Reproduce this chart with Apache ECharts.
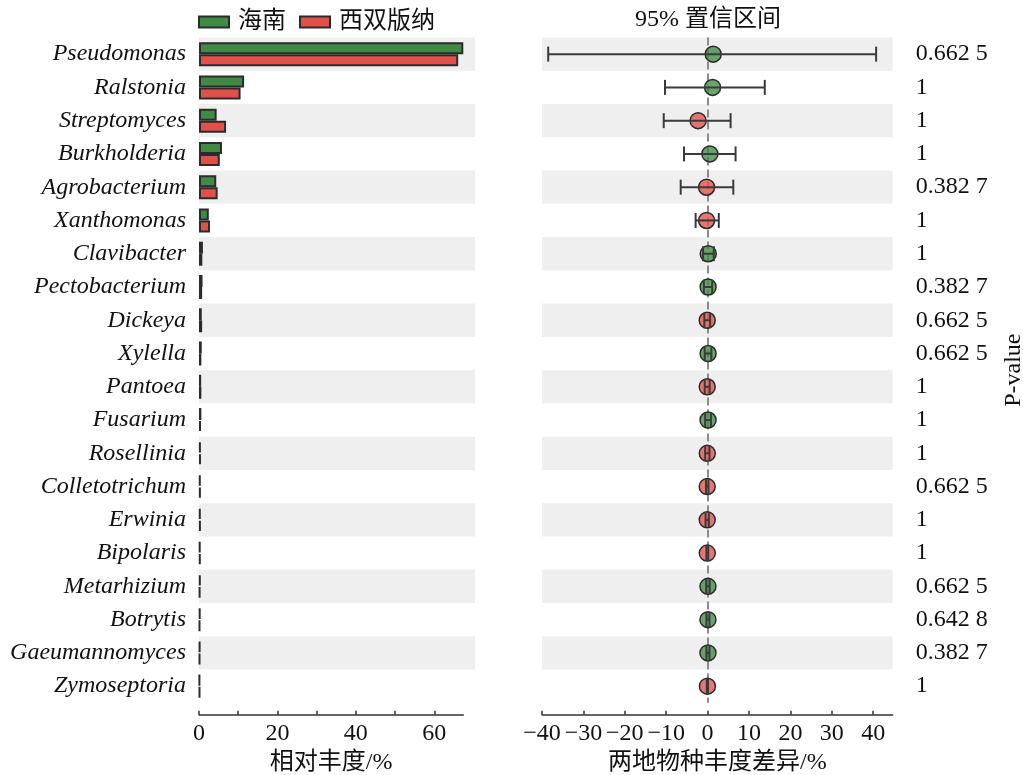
<!DOCTYPE html>
<html>
<head>
<meta charset="utf-8">
<script src="https://cdn.jsdelivr.net/npm/echarts@6/dist/echarts.min.js"></script>
<style>
  html, body { margin: 0; padding: 0; background: #fff; }
  #chart { width: 1023px; height: 775px; }
</style>
</head>
<body>
<div id="chart"></div>
<script>
// Genera, top to bottom
const categories = [
  'Pseudomonas', 'Ralstonia', 'Streptomyces', 'Burkholderia', 'Agrobacterium',
  'Xanthomonas', 'Clavibacter', 'Pectobacterium', 'Dickeya', 'Xylella',
  'Pantoea', 'Fusarium', 'Rosellinia', 'Colletotrichum', 'Erwinia',
  'Bipolaris', 'Metarhizium', 'Botrytis', 'Gaeumannomyces', 'Zymoseptoria'
];

// Mean relative abundance (%) in each region
const hainan = [67.4, 11.5, 4.5, 5.85, 4.4, 2.5, 1.0, 0.9, 0.7, 0.7,
                0.55, 0.6, 0.45, 0.4, 0.4, 0.35, 0.4, 0.35, 0.3, 0.2];
const xishuangbanna = [66.1, 10.6, 6.9, 5.3, 4.75, 2.8, 0.85, 0.8, 0.8, 0.6,
                       0.6, 0.5, 0.5, 0.45, 0.45, 0.4, 0.3, 0.25, 0.25, 0.25];

// Difference in abundance (Hainan - Xishuangbanna) with its 95% confidence interval
const meanDiff = [1.35, 1.2, -2.3, 0.55, -0.25, -0.25, 0.15, 0.12, -0.1, 0.12,
                  -0.1, 0.1, -0.08, -0.1, -0.1, -0.08, 0.08, 0.08, 0.08, -0.05];
const ciLow = [-38.5, -10.3, -10.6, -5.7, -6.5, -2.9, -1.1, -0.9, -0.8, -0.7,
               -0.7, -0.6, -0.6, -0.4, -0.5, -0.3, -0.35, -0.3, -0.3, -0.2];
const ciHigh = [40.7, 13.8, 5.55, 6.75, 6.2, 2.7, 1.5, 1.1, 0.6, 0.9,
                0.5, 0.8, 0.45, 0.2, 0.3, 0.15, 0.5, 0.45, 0.45, 0.1];

// P-value shown beside each row
const pValues = ['0.662 5', '1', '1', '1', '0.382 7', '1', '1', '0.382 7', '0.662 5', '0.662 5',
                 '1', '1', '1', '0.662 5', '1', '1', '0.662 5', '0.642 8', '0.382 7', '1'];

const seriesNames = ['海南', '西双版纳'];

// Axis ranges
const abundanceMax = Math.max(...hainan, ...xishuangbanna);
const abundanceBandEnd = 70.4;
const diffMin = -40;
const diffMax = 44.7;

const GREEN = '#3f8b43';
const RED = '#e2504a';
const GREEN_DOT = 'rgba(63,139,67,0.78)';
const RED_DOT = 'rgba(226,80,74,0.78)';
const EDGE = '#2b2b2b';
const BAND = '#efefef';
const FONT = "'Liberation Serif', 'Times New Roman', 'Noto Sans CJK SC', serif";
const FS = 24;
const TEXT = '#111';

const chart = echarts.init(document.getElementById('chart'), null, { renderer: 'canvas' });

const rowIndex = categories.map((c, i) => [0, i]);

// Alternating grey row stripes between two x values
function stripes(xFrom, xTo) {
  return function (params, api) {
    const idx = api.value(1);
    if (idx % 2 === 1) return null;
    const a = api.coord([xFrom, idx]);
    const b = api.coord([xTo, idx]);
    const h = api.size([0, 1])[1];
    return {
      type: 'rect',
      shape: { x: a[0], y: a[1] - h / 2, width: b[0] - a[0], height: h },
      style: { fill: BAND },
      silent: true
    };
  };
}

// Horizontal whisker with end caps
function whisker(params, api) {
  const row = api.value(2);
  const lo = api.coord([api.value(0), row]);
  const hi = api.coord([api.value(1), row]);
  const cap = 7.5;
  const style = { stroke: '#3a3a3a', lineWidth: 2 };
  return {
    type: 'group',
    children: [
      { type: 'line', shape: { x1: lo[0], y1: lo[1], x2: hi[0], y2: hi[1] }, style },
      { type: 'line', shape: { x1: lo[0], y1: lo[1] - cap, x2: lo[0], y2: lo[1] + cap }, style },
      { type: 'line', shape: { x1: hi[0], y1: hi[1] - cap, x2: hi[0], y2: hi[1] + cap }, style }
    ]
  };
}

const minus = v => String(v).replace('-', '\u2212');

const axisCommon = {
  axisLine: { show: true, lineStyle: { color: '#333', width: 1.5 } },
  axisTick: { show: true, inside: true, length: 4, lineStyle: { color: '#333', width: 1.5 } },
  splitLine: { show: false },
  nameLocation: 'middle',
  nameTextStyle: { fontFamily: FONT, fontSize: FS, color: TEXT },
  offset: 12
};

const option = {
  backgroundColor: '#fff',
  animation: false,
  textStyle: { fontFamily: FONT },
  title: {
    text: '95% 置信区间',
    left: 635,
    top: 8,
    padding: 0,
    textStyle: { fontFamily: FONT, fontSize: FS, fontWeight: 'normal', color: TEXT }
  },
  legend: {
    data: seriesNames,
    left: 198,
    top: 10,
    padding: 0,
    icon: 'rect',
    itemWidth: 30,
    itemHeight: 11,
    itemGap: 13,
    textStyle: { fontFamily: FONT, fontSize: FS, color: TEXT, padding: [0, 0, 0, 4] }
  },
  grid: [
    { left: 199, right: 1023 - 463.3, top: 37.5, bottom: 72.2, outerBoundsMode: 'none' },
    { left: 542, right: 1023 - 892.7, top: 37.5, bottom: 72.2, outerBoundsMode: 'none' }
  ],
  xAxis: [
    Object.assign({}, axisCommon, {
      gridIndex: 0,
      type: 'value',
      min: 0,
      max: abundanceMax,
      interval: 10,
      name: '相对丰度/%',
      nameGap: 34,
      axisLabel: {
        margin: 7,
        fontFamily: FONT, fontSize: FS, color: TEXT,
        showMaxLabel: false,
        formatter: v => (v % 20 === 0 ? String(v) : '')
      }
    }),
    Object.assign({}, axisCommon, {
      gridIndex: 1,
      type: 'value',
      min: diffMin,
      max: diffMax,
      interval: 10,
      name: '两地物种丰度差异/%',
      nameGap: 34,
      axisLabel: {
        margin: 7,
        fontFamily: FONT, fontSize: FS, color: TEXT,
        showMaxLabel: false,
        formatter: v => (v % 10 === 0 ? minus(v) : '')
      }
    })
  ],
  yAxis: [
    {
      gridIndex: 0,
      type: 'category',
      data: categories,
      inverse: true,
      axisLine: { show: false },
      axisTick: { show: false },
      splitLine: { show: false },
      axisLabel: {
        margin: 13,
        fontFamily: FONT, fontSize: FS, fontStyle: 'italic', color: TEXT
      }
    },
    {
      gridIndex: 1,
      type: 'category',
      data: categories,
      inverse: true,
      position: 'right',
      axisLine: { show: false },
      axisTick: { show: false },
      splitLine: { show: false },
      axisLabel: {
        margin: 23,
        align: 'left',
        fontFamily: FONT, fontSize: FS, color: TEXT,
        formatter: (v, i) => pValues[i]
      },
      name: 'P-value',
      nameLocation: 'middle',
      nameRotate: 90,
      nameGap: 109,
      nameTextStyle: { fontFamily: FONT, fontSize: FS, color: TEXT }
    }
  ],
  series: [
    {
      type: 'custom',
      xAxisIndex: 0, yAxisIndex: 0,
      z: 0, silent: true, clip: false,
      renderItem: stripes(0, abundanceBandEnd),
      encode: { x: 0, y: 1 },
      data: rowIndex
    },
    {
      type: 'custom',
      xAxisIndex: 1, yAxisIndex: 1,
      z: 0, silent: true, clip: false,
      renderItem: stripes(diffMin, diffMax),
      encode: { x: 0, y: 1 },
      data: rowIndex
    },
    {
      name: seriesNames[0],
      type: 'bar',
      xAxisIndex: 0, yAxisIndex: 0,
      barWidth: 12,
      barGap: '0%',
      z: 2,
      itemStyle: { color: GREEN, borderColor: EDGE, borderWidth: 2 },
      data: hainan
    },
    {
      name: seriesNames[1],
      type: 'bar',
      xAxisIndex: 0, yAxisIndex: 0,
      barWidth: 12,
      barGap: '0%',
      z: 2,
      itemStyle: { color: RED, borderColor: EDGE, borderWidth: 2 },
      data: xishuangbanna
    },
    {
      type: 'custom',
      xAxisIndex: 1, yAxisIndex: 1,
      z: 5, silent: true,
      renderItem: whisker,
      encode: { x: [0, 1], y: 2 },
      data: categories.map((c, i) => [ciLow[i], ciHigh[i], i])
    },
    {
      type: 'scatter',
      xAxisIndex: 1, yAxisIndex: 1,
      z: 4,
      symbol: 'circle',
      symbolSize: 16,
      itemStyle: {
        color: p => (p.value[0] >= 0 ? GREEN_DOT : RED_DOT),
        borderColor: EDGE,
        borderWidth: 1.5,
        opacity: 1
      },
      data: meanDiff.map((d, i) => [d, i]),
      markLine: {
        silent: true,
        symbol: 'none',
        z: 1,
        label: { show: false },
        lineStyle: { color: '#8c8c8c', width: 2, type: [8, 4] },
        data: [{ xAxis: 0 }]
      }
    }
  ]
};

chart.setOption(option);
</script>
</body>
</html>
